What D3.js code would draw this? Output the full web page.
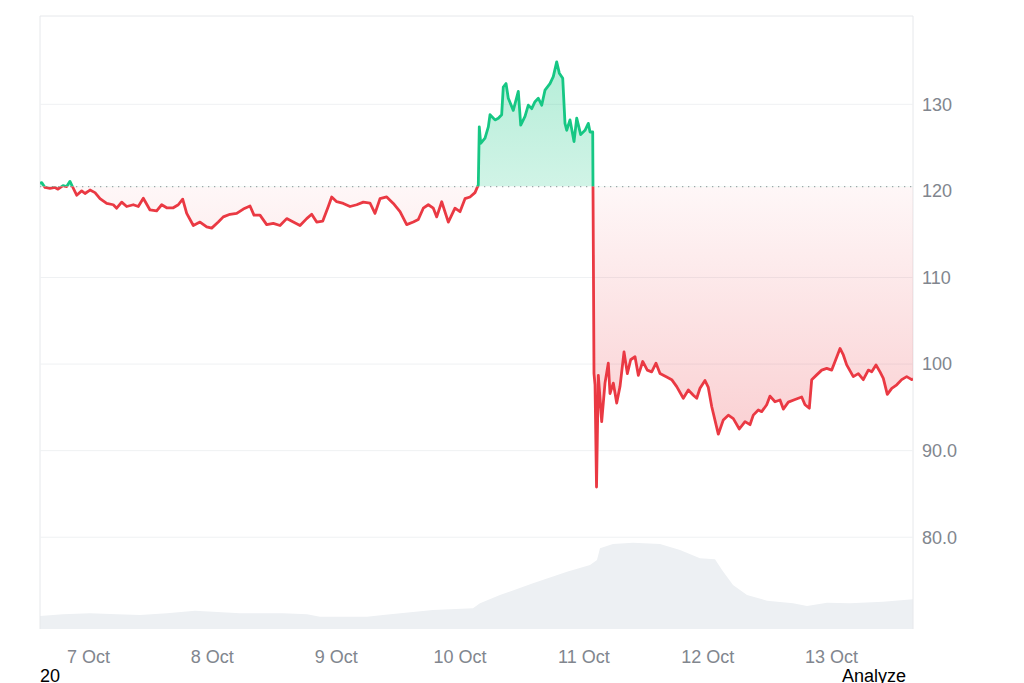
<!DOCTYPE html>
<html>
<head>
<meta charset="utf-8">
<script src="https://cdn.jsdelivr.net/npm/d3@7"></script>
<style>
  body { margin: 0; background: #fff; }
  svg { font-family: "Liberation Sans", Arial, sans-serif; }
</style>
</head>
<body>
<svg id="chart" width="1024" height="683"></svg>
<script>
// hours after 7 Oct 00:00 (UTC) and price
var priceHours = [-9.30, -8.97, -8.33, -7.36, -6.40, -5.81, -4.84, -4.13, -3.49, -2.97, -2.19, -1.22, -0.58,
  0.39, 1.36, 2.33, 3.62, 4.90, 5.56, 6.53, 7.50, 8.78, 9.75, 10.72, 12.02, 13.31, 14.28, 15.25, 16.53,
  17.50, 18.35, 19.13, 20.41, 21.71, 23.00, 23.97, 25.25, 26.22, 27.52, 28.82, 30.10, 31.40, 32.17,
  33.33, 34.63, 35.91, 37.21, 38.51, 39.79, 41.09, 42.38, 43.35, 44.32, 45.48, 46.57, 47.23, 48.20,
  49.48, 50.78, 52.07, 53.35, 54.65, 55.62, 56.59, 57.89, 59.17, 60.47, 61.76, 63.04, 64.01, 64.98,
  65.95, 66.92, 67.58, 68.55, 69.83, 71.12, 72.09, 73.06, 74.03, 75.00, 75.64,
  75.83, 76.10, 76.94, 77.58, 77.91, 78.88, 79.52, 80.17, 80.48, 81.01, 81.45, 82.42, 83.39, 83.86,
  84.69, 85.33, 85.99, 86.63, 87.27, 87.93, 88.57, 89.53, 90.17, 90.83, 91.34, 92.00, 92.44, 92.77,
  93.41, 94.19, 94.71, 95.48, 96.32, 96.96, 97.29, 97.81,
  98.06, 98.26, 98.55, 98.90, 99.55, 100.19, 100.83, 101.16, 101.80, 102.46, 103.10, 103.88, 104.52,
  105.17, 106.01, 106.65, 107.50, 108.39, 109.24, 110.08, 110.85, 112.15, 113.12, 114.09, 115.37,
  116.34, 117.31, 117.97, 118.60, 119.57, 120.21, 120.87, 122.15, 123.12, 124.09, 125.06, 126.22,
  127.33, 128.29, 128.93, 129.90, 130.56, 131.53, 132.17, 133.14, 134.11, 134.75, 135.72, 137.02,
  138.31, 138.95, 139.79, 140.25, 141.22, 142.19, 143.16, 144.13, 144.77, 145.74, 146.38, 147.03,
  148.31, 149.28, 150.25, 151.22, 151.88, 152.71, 153.49, 154.13, 154.90, 155.76, 156.73, 157.69,
  158.66, 159.63, 159.88];
var priceValues = [120.9, 120.95, 120.4, 120.3, 120.4, 120.2, 120.6, 120.5, 121.1, 120.45, 119.5, 120.0, 119.7,
  120.1, 119.8, 119.1, 118.55, 118.4, 118.0, 118.7, 118.2, 118.4, 118.2, 119.15, 117.8, 117.7, 118.4, 118.05, 118.05,
  118.4, 119.05, 117.4, 116.0, 116.4, 115.85, 115.7, 116.4, 117.0, 117.3, 117.4, 117.9, 118.25, 117.2,
  117.2, 116.1, 116.25, 116.0, 116.8, 116.4, 116.0, 116.8, 117.3, 116.4, 116.5, 118.2, 119.3, 118.75,
  118.55, 118.2, 118.4, 118.7, 118.6, 117.4, 119.1, 119.3, 118.55, 117.6, 116.1, 116.4, 116.7, 118.0,
  118.4, 118.0, 117.0, 118.75, 116.4, 118.0, 117.6, 119.1, 119.3, 119.8, 120.7,
  127.4, 125.5, 126.1, 127.4, 128.8, 128.2, 128.4, 128.8, 132.0, 132.4, 130.7, 129.3, 131.5, 127.6,
  128.6, 129.9, 129.5, 130.3, 130.7, 129.9, 131.65, 132.4, 133.2, 134.9, 133.6, 133.0, 127.8, 127.0,
  128.2, 125.7, 128.4, 126.5, 127.0, 127.8, 126.8, 126.8,
  98.9, 97.6, 85.8, 98.7, 93.35, 97.8, 100.1, 96.6, 97.8, 95.5, 97.4, 101.4, 98.9,
  100.5, 100.85, 98.7, 100.3, 99.3, 99.1, 100.1, 98.9, 98.5, 98.2, 97.4, 96.05,
  97.0, 96.4, 96.05, 97.2, 98.1, 97.3, 95.1, 91.9, 93.55, 94.1, 93.7, 92.5,
  93.35, 93.0, 94.1, 94.7, 94.5, 95.3, 96.3, 95.65, 95.85, 94.8, 95.6, 95.9,
  96.2, 95.3, 94.9, 98.2, 98.75, 99.3, 99.5, 99.3, 100.3, 101.8, 101.05, 99.9,
  98.55, 98.9, 98.2, 99.3, 99.1, 99.9, 99.1, 98.35, 96.5, 97.2, 97.6, 98.2,
  98.55, 98.2, 98.3];

// volume (same time base)
var volumeHours = [-9.30, -4.84, 0.39, 5.62, 10.08, 15.31, 20.74, 24.22, 29.46, 37.79, 42.44, 44.96,
  54.07, 57.17, 66.86, 74.61, 75.97, 79.84, 86.24, 92.83, 97.29, 98.64, 99.22, 101.74, 105.62,
  110.85, 114.73, 118.60, 121.51, 122.87, 125.00, 127.71, 131.59, 136.63, 139.34, 143.22, 147.67,
  154.07, 159.88];
var volumeValues = [1.3, 1.47, 1.57, 1.47, 1.4, 1.57, 1.83, 1.73, 1.57, 1.57, 1.47, 1.23,
  1.23, 1.4, 1.9, 2.07, 2.57, 3.4, 4.57, 5.73, 6.4, 6.9, 8.07, 8.5, 8.63,
  8.5, 7.9, 7.07, 6.97, 5.9, 4.4, 3.4, 2.83, 2.57, 2.3, 2.63, 2.57,
  2.73, 2.97];

var baselinePrice = 120.5;
var yTickValues = [80, 90, 100, 110, 120, 130];
var yTickLabels = ["80.0", "90.0", "100", "110", "120", "130"];

var GREEN = "#16c784";
var RED = "#ea3943";
var GRID = "#eff1f3";
var TEXT_GRAY = "#81868e";

var baseTime = Date.UTC(2025, 9, 7);
function toDate(h) { return new Date(baseTime + h * 3600e3); }

var data = priceHours.map(function (h, i) { return { t: toDate(h), p: priceValues[i] }; });
var vol = volumeHours.map(function (h, i) { return { t: toDate(h), v: volumeValues[i] }; });

// plot box (note: "top" is a reserved window prop, so use plot* names)
var plotL = 40, plotR = 913, plotT = 16, plotB = 629;

var svg = d3.select("#chart");

var x = d3.scaleUtc()
    .domain([toDate(priceHours[0]), toDate(priceHours[priceHours.length - 1])])
    .range([plotL, plotR]);
var y = d3.scaleLinear().domain([69.4, 140.2]).range([plotB, plotT]);
var yv = d3.scaleLinear().domain([0, 9.2]).range([plotB, 537]);

var yBase = y(baselinePrice);

// gradients
var defs = svg.append("defs");
var gGreen = defs.append("linearGradient").attr("id", "gradGreen")
    .attr("gradientUnits", "userSpaceOnUse")
    .attr("x1", 0).attr("x2", 0).attr("y1", 60).attr("y2", yBase);
gGreen.append("stop").attr("offset", "0%").attr("stop-color", GREEN).attr("stop-opacity", 0.32);
gGreen.append("stop").attr("offset", "100%").attr("stop-color", GREEN).attr("stop-opacity", 0.2);

var gRed = defs.append("linearGradient").attr("id", "gradRed")
    .attr("gradientUnits", "userSpaceOnUse")
    .attr("x1", 0).attr("x2", 0).attr("y1", yBase).attr("y2", 490);
gRed.append("stop").attr("offset", "0%").attr("stop-color", RED).attr("stop-opacity", 0.04);
gRed.append("stop").attr("offset", "100%").attr("stop-color", RED).attr("stop-opacity", 0.28);

defs.append("clipPath").attr("id", "clipAbove").append("rect")
    .attr("x", plotL).attr("y", plotT).attr("width", plotR - plotL).attr("height", yBase - plotT);
defs.append("clipPath").attr("id", "clipBelow").append("rect")
    .attr("x", plotL).attr("y", yBase).attr("width", plotR - plotL).attr("height", plotB - yBase);

// volume
svg.append("path")
    .datum(vol)
    .attr("fill", "#edf0f3")
    .attr("d", d3.area().x(function (d) { return x(d.t); }).y0(plotB).y1(function (d) { return yv(d.v); }));

// frame
svg.append("path")
    .attr("d", "M" + plotL + "," + plotB + "V" + plotT + "H" + plotR + "V" + plotB)
    .attr("fill", "none").attr("stroke", "#e6e8eb").attr("stroke-width", 1);

// grid (the 120 line is hidden behind the baseline in the original)
svg.append("g").selectAll("line")
    .data(yTickValues.filter(function (d) { return d !== 120; }))
    .join("line")
    .attr("x1", plotL).attr("x2", plotR)
    .attr("y1", function (d) { return y(d); }).attr("y2", function (d) { return y(d); })
    .attr("stroke", GRID).attr("stroke-width", 1);

// dotted baseline
svg.append("line")
    .attr("x1", plotL).attr("x2", plotR).attr("y1", yBase).attr("y2", yBase)
    .attr("stroke", "#a3a7ad").attr("stroke-width", 1.3).attr("stroke-dasharray", "1.3,4.7");

var area = d3.area().x(function (d) { return x(d.t); }).y0(yBase).y1(function (d) { return y(d.p); });
var line = d3.line().x(function (d) { return x(d.t); }).y(function (d) { return y(d.p); });

svg.append("path").datum(data).attr("clip-path", "url(#clipAbove)")
    .attr("fill", "url(#gradGreen)").attr("d", area);
svg.append("path").datum(data).attr("clip-path", "url(#clipBelow)")
    .attr("fill", "url(#gradRed)").attr("d", area);

svg.append("path").datum(data).attr("clip-path", "url(#clipAbove)")
    .attr("fill", "none").attr("stroke", GREEN).attr("stroke-width", 2.8)
    .attr("stroke-linejoin", "round").attr("d", line);
svg.append("path").datum(data).attr("clip-path", "url(#clipBelow)")
    .attr("fill", "none").attr("stroke", RED).attr("stroke-width", 2.8)
    .attr("stroke-linejoin", "round").attr("d", line);

// y labels
svg.append("g").selectAll("text")
    .data(yTickValues)
    .join("text")
    .attr("x", 922).attr("y", function (d) { return y(d); }).attr("dy", "0.35em")
    .attr("fill", TEXT_GRAY).attr("font-size", 18)
    .text(function (d, i) { return yTickLabels[i]; });

// x labels
var xAxis = d3.axisBottom(x).ticks(d3.utcDay.every(1)).tickFormat(d3.utcFormat("%-d %b")).tickSize(0);
var gx = svg.append("g").attr("transform", "translate(0,647)").call(xAxis);
gx.select(".domain").remove();
gx.selectAll("text").attr("fill", TEXT_GRAY).attr("font-size", 18)
    .attr("font-family", "Liberation Sans, Arial, sans-serif");

svg.append("text").attr("x", 40).attr("y", 682).attr("font-size", 18).attr("fill", "#000").text("20");
svg.append("text").attr("x", 906).attr("y", 682).attr("text-anchor", "end")
    .attr("font-size", 18).attr("fill", "#000").text("Analyze");
</script>
</body>
</html>
